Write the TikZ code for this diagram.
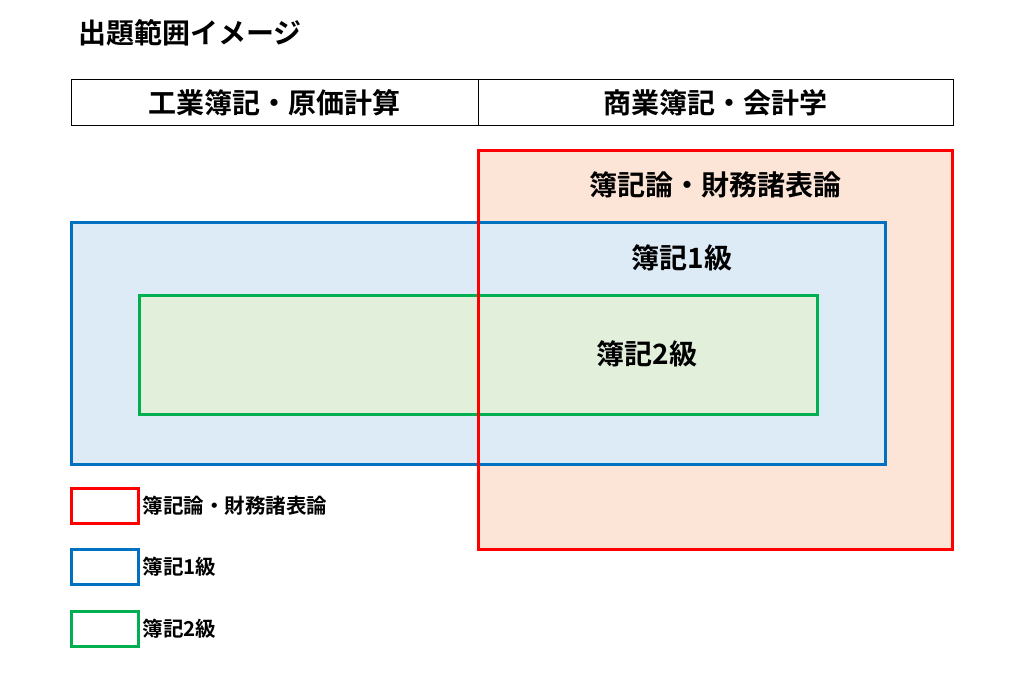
\documentclass[tikz,border=0pt]{standalone}
\usepackage{fontspec}
\setmainfont{Noto Sans CJK JP}[BoldFont={Noto Sans CJK JP Bold}]
\definecolor{rline}{HTML}{FF0000}
\definecolor{rfill}{HTML}{FCE4D6}
\definecolor{bline}{HTML}{0070C0}
\definecolor{bfill}{HTML}{DDEBF7}
\definecolor{gline}{HTML}{00B050}
\definecolor{gfill}{HTML}{E2EFDA}
\tikzset{
  big/.style={font=\fontsize{28}{32}\selectfont\bfseries, inner sep=0pt},
  small/.style={font=\fontsize{20.5}{24}\selectfont\bfseries, inner sep=0pt, anchor=west},
  legbox/.style={draw, line width=3pt, minimum width=66.5pt, minimum height=34.5pt, inner sep=0pt, anchor=north west},
  cell/.style={draw, line width=0.8pt, minimum height=46pt, inner sep=0pt, anchor=north west}
}
\begin{document}
\begin{tikzpicture}[x=1pt,y=-1pt]
\useasboundingbox (0,0) rectangle (1024,672);
% title
\node[big, anchor=west] (title) at (78,33) {出題範囲イメージ};
% header table
\node[cell, minimum width=407pt] (hl) at (71,79) {};
\node[cell, minimum width=475pt] (hr) at (478,79) {};
\node[big] (hlt) at (hl.center) {工業簿記・原価計算};
\node[big] (hrt) at (hr.center) {商業簿記・会計学};
% fills
\fill[rfill] (478,150) rectangle (952,549);
\draw[bline, fill=bfill, line width=3pt] (71,222) rectangle (885,464);
\draw[gline, fill=gfill, line width=3pt] (139,295) rectangle (817,414);
\draw[rline, line width=3pt] (478,150) rectangle (952,549);
\node[big] (lr) at (715,185) {簿記論・財務諸表論};
\node[big] (lb) at (682,258) {簿記1級};
\node[big] (lg) at (647,354) {簿記2級};
% legend
\node[legbox, draw=rline] (k1) at (70,487) {};
\node[legbox, draw=bline] (k2) at (70,548) {};
\node[legbox, draw=gline] (k3) at (70,610) {};
\node[small] (t1) at ([xshift=3pt]k1.east) {簿記論・財務諸表論};
\node[small] (t2) at ([xshift=3pt]k2.east) {簿記1級};
\node[small] (t3) at ([xshift=3pt]k3.east) {簿記2級};
\end{tikzpicture}
\end{document}
